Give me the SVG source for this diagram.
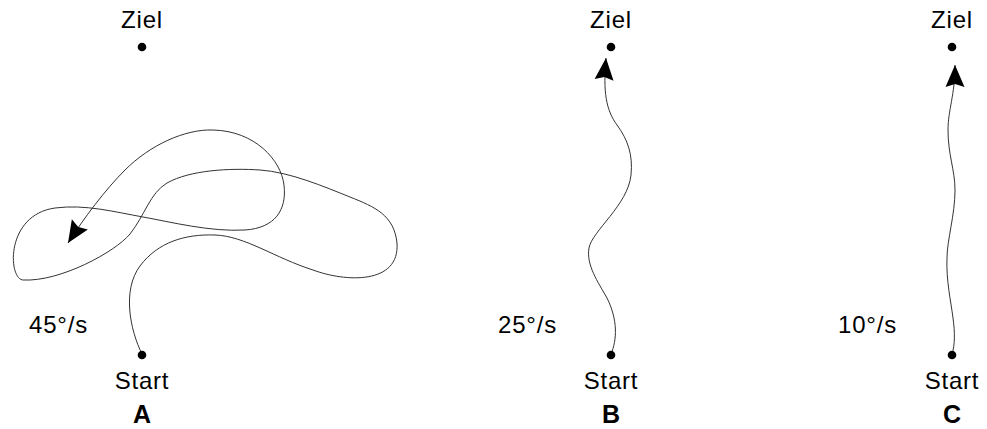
<svg xmlns="http://www.w3.org/2000/svg" width="987" height="429" viewBox="0 0 987 429">
<style>
text{font-family:"Liberation Sans",Arial,sans-serif;font-size:24px;letter-spacing:0.8px;fill:#000}
.lbl{text-anchor:middle}
.speed{text-anchor:end}
.panel{font-weight:bold;text-anchor:middle;font-size:25px;letter-spacing:0}
.dot{fill:#000}
.path{fill:none;stroke:#333;stroke-width:1}
</style>
<defs>
<marker id="arr" markerUnits="userSpaceOnUse" viewBox="-25 -12 30 24" markerWidth="30" markerHeight="24" refX="0" refY="0" orient="auto">
<path d="M0,0 L-22,-9.5 L-19,0 L-22,9.5 z" fill="#000"/>
</marker>
</defs>
<rect width="987" height="429" fill="#fff"/>
<g id="connectors">
<path class="path" marker-end="url(#arr)" d="M142,354 C130,330 122,290 140,266 C158,242 185,234 215,235 C245,236 275,258 313,270 C345,282 400,285 397,243 C394,215 375,207 350,197 C325,187 290,172 260,170 C230,168 190,170 167,183 C150,193 145,215 130,234 C115,252 60,282 23,280 C8,279 5,215 55,208 C85,204 115,212 143,217 C171,222 210,232 245,230 C275,228 287,210 284,185 C281,160 255,131 213,130 C185,129 150,145 125,170 C105,190 84,218 68,243"/>
<path class="path" marker-end="url(#arr)" d="M611,354 C617,340 618,320 607,298 C598,282 586,265 589,248 C592,231 628,205 631,175 C633,155 628,140 617,125 C606,110 603,92 606,58"/>
<path class="path" marker-end="url(#arr)" d="M952,354 C955,345 955,332 953,318 C951,302 946,280 947,258 C947,240 955,215 955,190 C955,170 948,155 948,130 C948,110 955,95 955,65"/>
</g>
<g id="zielA"><circle class="dot" cx="142" cy="47" r="4.3"/><text class="lbl" x="142" y="28">Ziel</text></g>
<g id="startA"><circle class="dot" cx="142" cy="355" r="4.3"/><text class="lbl" x="142" y="389">Start</text></g>
<g id="zielB"><circle class="dot" cx="611" cy="47" r="4.3"/><text class="lbl" x="611" y="28">Ziel</text></g>
<g id="startB"><circle class="dot" cx="611" cy="355" r="4.3"/><text class="lbl" x="611" y="389">Start</text></g>
<g id="zielC"><circle class="dot" cx="952" cy="47" r="4.3"/><text class="lbl" x="952" y="28">Ziel</text></g>
<g id="startC"><circle class="dot" cx="952" cy="355" r="4.3"/><text class="lbl" x="952" y="389">Start</text></g>
<g id="labels">
<text class="speed" x="88" y="333">45°/s</text>
<text class="speed" x="557" y="333">25°/s</text>
<text class="speed" x="897" y="333">10°/s</text>
<text class="panel" x="142" y="423">A</text>
<text class="panel" x="611" y="423">B</text>
<text class="panel" x="952" y="423">C</text>
</g>
</svg>
